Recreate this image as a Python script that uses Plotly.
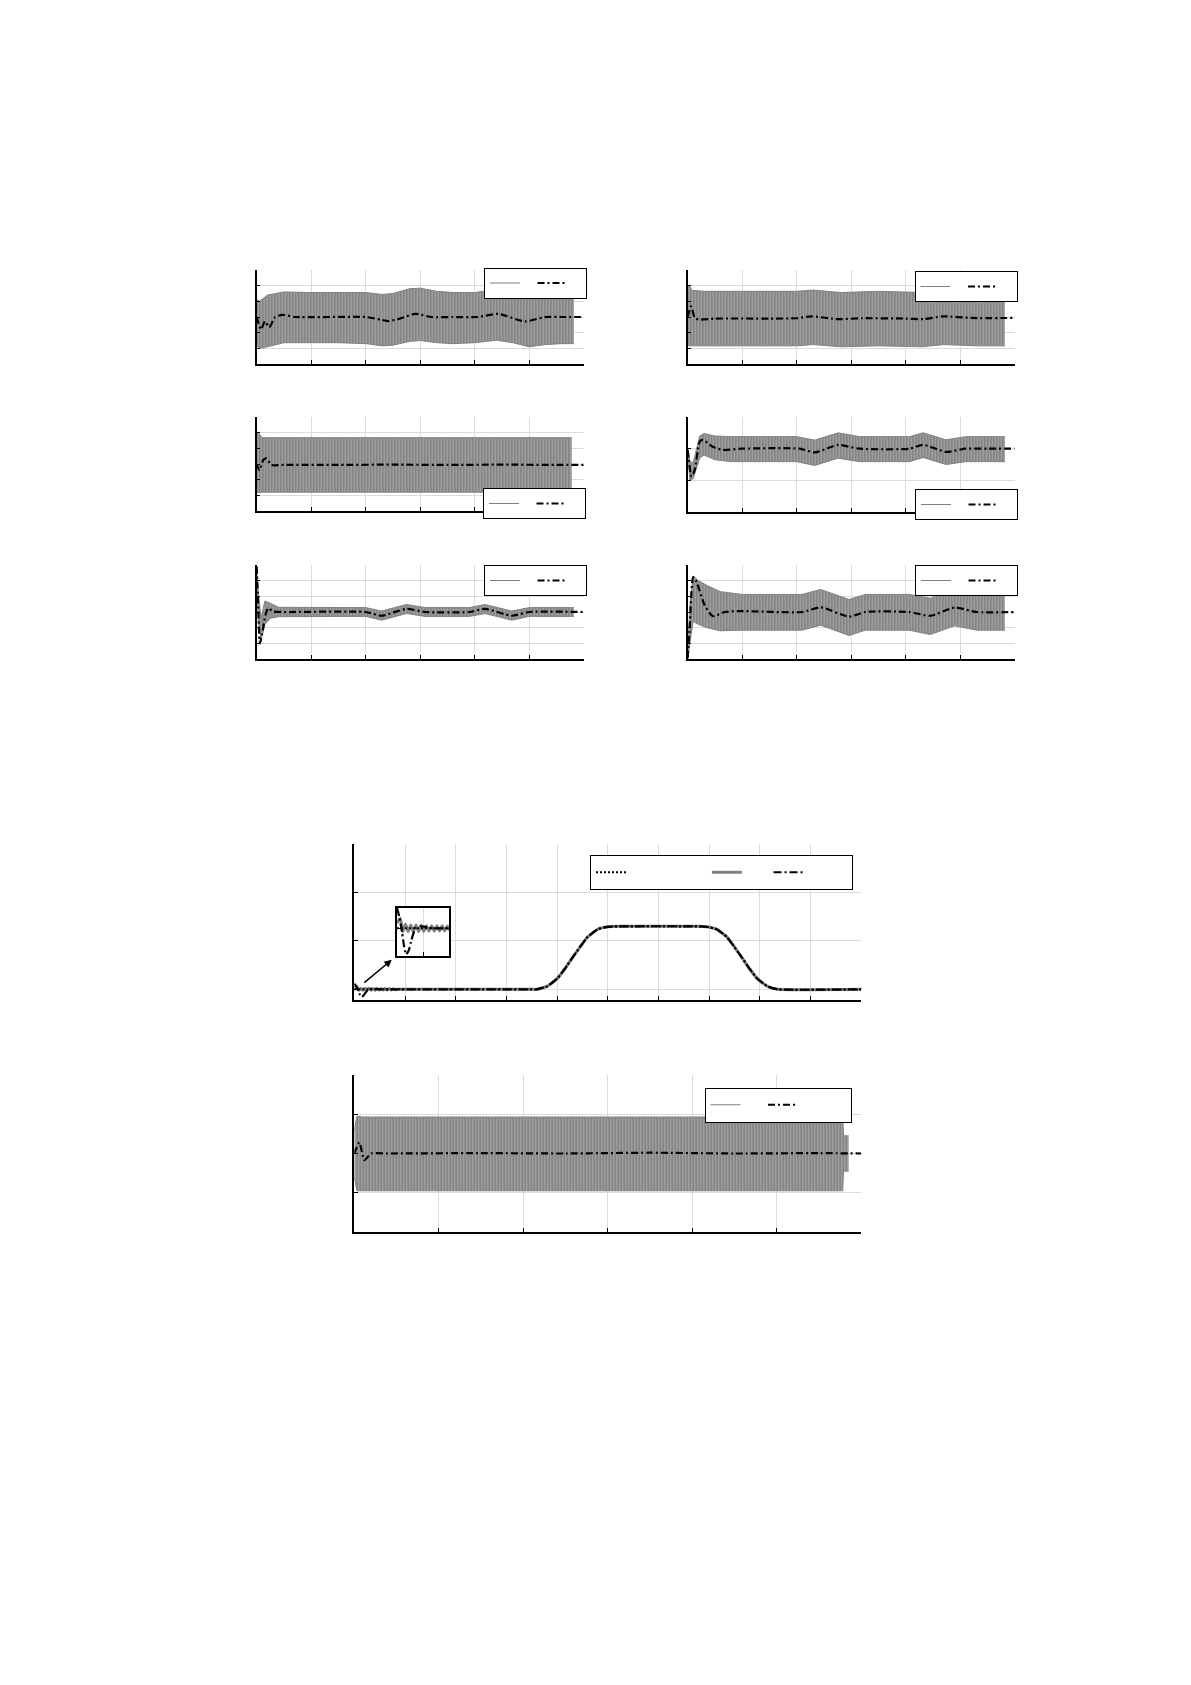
import plotly.graph_objects as go

# page geometry: the browser body keeps an 8px margin, so positions are offset by it
PAGE_W, PAGE_H = 1191, 1685
OX, OY = 8, 8
FIG_W, FIG_H = PAGE_W - 2 * OX, PAGE_H - 2 * OY

# ---------------- data (x in grid divisions, y in axis units) ----------------
# Panel A (row 1, left)
a_band_x = [0, 0.05, 0.2, 0.5, 1.0, 1.5, 2.0, 2.3, 2.5, 2.8, 3.0, 3.3, 3.6, 4.0, 4.4, 4.7, 5.0, 5.3, 5.6, 5.82]
a_upper = [0.55, 0.5, 0.7, 0.8, 0.78, 0.78, 0.78, 0.72, 0.75, 0.9, 0.92, 0.82, 0.78, 0.78, 0.88, 0.82, 0.70, 0.78, 0.78, 0.78]
a_lower = [-0.9, -1.0, -0.95, -0.82, -0.82, -0.82, -0.85, -0.92, -0.9, -0.78, -0.75, -0.82, -0.85, -0.82, -0.74, -0.82, -0.95, -0.88, -0.85, -0.85]
a_mean_x = [0, 0.08, 0.15, 0.23, 0.34, 0.48, 0.7, 2.0, 2.29, 2.41, 2.63, 2.91, 3.21, 3.6, 4.06, 4.43, 4.92, 5.29, 5.6, 6.0]
a_mean_y = [0, -0.4, -0.14, -0.33, 0, 0.07, 0.0, 0.0, -0.09, -0.13, -0.05, 0.1, 0.0, 0.0, 0.0, 0.1, -0.14, 0.0, 0.0, 0.0]

# Panel B (row 1, right)
b_band_x = [0, 0.03, 0.08, 0.3, 1.0, 2.0, 2.3, 2.8, 3.5, 4.3, 4.7, 5.3, 5.82]
b_upper = [1.0, 1.0, 0.85, 0.82, 0.82, 0.82, 0.86, 0.78, 0.82, 0.78, 0.86, 0.82, 0.82]
b_lower = [-0.9, -0.92, -0.92, -0.92, -0.92, -0.92, -0.88, -0.95, -0.92, -0.95, -0.88, -0.92, -0.92]
b_mean_x = [0, 0.06, 0.13, 0.2, 0.5, 1.5, 2.0, 2.27, 2.76, 3.2, 4.0, 4.32, 4.68, 5.2, 6.0]
b_mean_y = [0, 0.34, -0.02, -0.08, -0.05, -0.05, -0.04, 0.02, -0.07, -0.04, -0.05, -0.07, 0.02, -0.03, -0.03]

# Panel C (row 2, left)
c_band_x = [0, 0.03, 0.1, 0.5, 1.5, 2.5, 3.5, 4.5, 5.5, 5.78]
c_upper = [1.0, 1.0, 0.84, 0.84, 0.84, 0.85, 0.84, 0.84, 0.84, 0.84]
c_lower = [-0.9, -0.92, -0.9, -0.9, -0.9, -0.9, -0.9, -0.9, -0.9, -0.9]
c_mean_x = [0, 0.05, 0.12, 0.18, 0.27, 0.5, 1.5, 2.5, 3.5, 4.5, 5.5, 6.0]
c_mean_y = [0, -0.2, 0.13, 0.18, -0.03, -0.03, -0.03, -0.02, -0.03, -0.02, -0.03, -0.03]

# Panel D (row 2, right)
d_band_x = [0, 0.04, 0.1, 0.22, 0.3, 0.5, 0.8, 2.0, 2.33, 2.76, 3.15, 4.07, 4.32, 4.74, 5.1, 5.82]
d_upper = [0.0, -0.4, -0.45, 0.4, 0.48, 0.4, 0.38, 0.38, 0.27, 0.5, 0.38, 0.38, 0.5, 0.28, 0.38, 0.38]
d_lower = [-0.1, -1.0, -0.95, -0.3, -0.2, -0.35, -0.41, -0.41, -0.53, -0.3, -0.41, -0.41, -0.28, -0.5, -0.41, -0.41]
d_mean_x = [0, 0.07, 0.13, 0.22, 0.28, 0.46, 0.64, 1.0, 2.05, 2.33, 2.55, 2.76, 3.15, 4.07, 4.32, 4.74, 5.1, 5.5, 6.0]
d_mean_y = [-0.04, -0.88, -0.67, 0.22, 0.28, 0.06, -0.04, 0.0, 0.0, -0.12, 0.0, 0.12, 0.0, 0.0, 0.12, -0.1, 0.0, 0.0, 0.0]

# Panel E (row 3, left)
e_band_x = [0, 0.03, 0.08, 0.15, 0.25, 0.4, 2.0, 2.29, 2.75, 3.09, 3.9, 4.19, 4.68, 5.0, 5.82]
e_upper = [1.3, 0.6, -0.2, 0.35, 0.28, 0.15, 0.14, 0.03, 0.24, 0.14, 0.14, 0.24, 0.03, 0.14, 0.14]
e_lower = [0.9, -0.3, -0.9, -0.4, -0.2, -0.15, -0.14, -0.26, -0.05, -0.14, -0.14, -0.05, -0.26, -0.14, -0.14]
e_mean_x = [0, 0.02, 0.06, 0.1, 0.16, 0.21, 0.3, 0.5, 2.0, 2.29, 2.5, 2.75, 3.09, 3.9, 4.19, 4.68, 5.0, 6.0]
e_mean_y = [1.45, 0.6, -1.0, -0.7, -0.1, 0.12, 0.02, 0.0, 0.0, -0.12, -0.02, 0.1, 0.0, 0.0, 0.1, -0.12, 0.0, 0.0]

# Panel F (row 3, right)
f_band_x = [0, 0.04, 0.1, 0.2, 0.35, 0.6, 1.0, 2.1, 2.44, 2.96, 3.26, 4.06, 4.45, 4.9, 5.3, 5.82]
f_upper = [-1.2, 0.2, 1.15, 1.0, 0.85, 0.65, 0.56, 0.56, 0.72, 0.4, 0.56, 0.56, 0.44, 0.72, 0.56, 0.56]
f_lower = [-1.47, -1.0, -0.3, -0.4, -0.5, -0.6, -0.58, -0.58, -0.42, -0.75, -0.58, -0.58, -0.72, -0.44, -0.58, -0.58]
f_mean_x = [0, 0.04, 0.10, 0.16, 0.31, 0.46, 0.68, 0.92, 2.1, 2.44, 2.96, 3.26, 4.06, 4.45, 4.9, 5.3, 6.0]
f_mean_y = [-1.47, -0.42, 1.11, 0.97, 0.22, -0.13, 0.0, 0.03, 0.0, 0.15, -0.15, 0.0, 0.0, -0.12, 0.14, 0.0, 0.0]

# Panel G (row 4): reference trajectory, actual, estimate
g_ref_x = [0, 3.5, 3.6, 3.8, 4.0, 4.15, 4.3, 4.45, 4.6, 4.8, 5.0, 5.2, 6.75, 6.95, 7.15, 7.35, 7.5, 7.65, 7.8, 7.95, 8.15, 8.35, 10.0]
g_ref_y = [0, 0, 0.0, 0.06, 0.22, 0.42, 0.65, 0.87, 1.08, 1.24, 1.29, 1.3, 1.3, 1.29, 1.24, 1.08, 0.87, 0.65, 0.42, 0.22, 0.06, 0.0, 0.0]
g_act_start_x = [0, 0.05, 0.09, 0.13, 0.17, 0.21, 0.25, 0.29, 0.33, 0.37, 0.41, 0.45, 0.49, 0.53, 0.57, 0.61, 0.65, 0.69, 0.73, 0.77, 0.81, 0.85]
g_act_start_y = [0.03, 0.06, -0.02, 0.025, -0.02, 0.02, -0.02, 0.02, -0.018, 0.018, -0.018, 0.016, -0.016, 0.016, -0.016, 0.015, -0.015, 0.015, -0.015, 0.014, -0.01, 0.0]
g_est_start_x = [0, 0.04, 0.08, 0.11, 0.14, 0.18, 0.22, 0.28, 0.35, 0.42, 0.55, 0.8]
g_est_start_y = [0.12, 0.06, -0.03, -0.11, -0.154, -0.13, -0.07, 0.0, 0.012, 0.01, 0.0, 0.0]

# Panel H (row 5)
h_band_x = [0, 0.03, 0.1, 1.0, 2.0, 3.0, 4.0, 5.0, 5.78, 5.79, 5.85]
h_upper = [0.6, 0.95, 0.93, 0.93, 0.93, 0.93, 0.93, 0.93, 0.93, 0.45, 0.45]
h_lower = [-0.6, -0.95, -0.95, -0.95, -0.95, -0.95, -0.95, -0.95, -0.95, -0.45, -0.45]
h_mean_x = [0, 0.06, 0.12, 0.2, 0.4, 1.5, 2.5, 3.5, 4.5, 5.5, 6.0]
h_mean_y = [0, 0.28, -0.17, 0.0, 0.0, 0.01, 0.0, 0.02, 0.0, 0.01, 0.0]

# ---------------- styling ----------------
GRAY = "#808080"
MEAN_DASH = "7px,3px,2px,3px"
PATTERN = dict(shape="|", bgcolor="#858585", fgcolor="#cccccc", size=3, solidity=0.35)
NB = "\u00a0"


def xdom(a, b):
    return [(a - OX) / FIG_W, (b - OX) / FIG_W]


def ydom(top, bottom):
    return [1 - (bottom - OY) / FIG_H, 1 - (top - OY) / FIG_H]


def axis(domain, rng, dtick, anchor):
    return dict(domain=domain, range=rng, dtick=dtick, tick0=0, anchor=anchor,
                showgrid=True, gridcolor="#dcdcdc", gridwidth=1,
                showline=True, linecolor="black", linewidth=1.5,
                ticks="inside", ticklen=4, tickcolor="black", tickwidth=1,
                showticklabels=False, zeroline=False, fixedrange=True)


fig = go.Figure()


def band_panel(n, bx, up, lo, mx, my, leg, names):
    xa, ya = ("x" if n == 1 else f"x{n}"), ("y" if n == 1 else f"y{n}")
    fig.add_trace(go.Scatter(x=bx, y=up, mode="lines", xaxis=xa, yaxis=ya,
                             line=dict(color=GRAY, width=1), name=names[0],
                             legend=leg, legendrank=1, hoverinfo="skip"))
    fig.add_trace(go.Scatter(x=bx, y=lo, mode="lines", xaxis=xa, yaxis=ya,
                             line=dict(color=GRAY, width=1), fill="tonexty",
                             fillcolor="#858585", fillpattern=PATTERN,
                             showlegend=False, hoverinfo="skip"))
    fig.add_trace(go.Scatter(x=mx, y=my, mode="lines", xaxis=xa, yaxis=ya,
                             line=dict(color="black", width=2.2, dash=MEAN_DASH,
                                       shape="spline", smoothing=0.6),
                             name=names[1], legend=leg, legendrank=2))


small_names = [NB, NB * 3]
band_panel(1, a_band_x, a_upper, a_lower, a_mean_x, a_mean_y, "legend", small_names)
band_panel(2, b_band_x, b_upper, b_lower, b_mean_x, b_mean_y, "legend2", small_names)
band_panel(3, c_band_x, c_upper, c_lower, c_mean_x, c_mean_y, "legend3", small_names)
band_panel(4, d_band_x, d_upper, d_lower, d_mean_x, d_mean_y, "legend4", small_names)
band_panel(5, e_band_x, e_upper, e_lower, e_mean_x, e_mean_y, "legend5", small_names)
band_panel(6, f_band_x, f_upper, f_lower, f_mean_x, f_mean_y, "legend6", small_names)

# Panel G traces (drawn again, clipped, inside the inset axes)
g_act_x = g_act_start_x + g_ref_x[1:]
g_act_y = g_act_start_y + g_ref_y[1:]
g_est_x = g_est_start_x + g_ref_x[1:]
g_est_y = g_est_start_y + g_ref_y[1:]
for xa, ya, show in (("x7", "y7", True), ("x9", "y9", False)):
    fig.add_trace(go.Scatter(x=g_act_x, y=g_act_y, mode="lines", xaxis=xa, yaxis=ya,
                             line=dict(color=GRAY, width=3, shape="spline", smoothing=0.4),
                             name=NB * 4, legend="legend7", legendrank=2, showlegend=show))
    fig.add_trace(go.Scatter(x=g_ref_x, y=g_ref_y, mode="lines", xaxis=xa, yaxis=ya,
                             line=dict(color="black", width=2, dash="2px,2px",
                                       shape="spline", smoothing=0.4),
                             name=NB * 17, legend="legend7", legendrank=1, showlegend=show))
    fig.add_trace(go.Scatter(x=g_est_x, y=g_est_y, mode="lines", xaxis=xa, yaxis=ya,
                             line=dict(color="black", width=2.2, dash="8px,3px,2px,3px",
                                       shape="spline", smoothing=0.4),
                             name=NB * 9, legend="legend7", legendrank=3, showlegend=show))

# Panel H
band_panel(8, h_band_x, h_upper, h_lower, h_mean_x, h_mean_y, "legend8", [NB * 3, NB * 10])

# ---------------- layout ----------------
L_A, R_A = 256.7, 583.7
L_B, R_B = 687.7, 1014.7
L_G, R_G = 354.3, 861.3
G_TOP, G_BOT = 844, 1000
G_RANGE = [-0.22, 3]
IN_L, IN_R, IN_T, IN_B = 397, 449.3, 908, 955.5

layout = dict(
    width=FIG_W, height=FIG_H, margin=dict(l=0, r=0, t=0, b=0),
    paper_bgcolor="white", plot_bgcolor="white", showlegend=True,
    font=dict(family="Liberation Sans, Arial, sans-serif", size=10, color="black"),
    xaxis=axis(xdom(L_A, R_A), [0, 6], 1, "y"),
    yaxis=axis(ydom(270, 364), [-1.5, 1.5], 0.5, "x"),
    xaxis2=axis(xdom(L_B, R_B), [0, 6], 1, "y2"),
    yaxis2=axis(ydom(270, 364), [-1.5, 1.5], 0.5, "x2"),
    xaxis3=axis(xdom(L_A, R_A), [0, 6], 1, "y3"),
    yaxis3=axis(ydom(417, 511), [-1.5, 1.5], 0.5, "x3"),
    xaxis4=axis(xdom(L_B, R_B), [0, 6], 1, "y4"),
    yaxis4=axis(ydom(417, 512), [-2, 1], 1, "x4"),
    xaxis5=axis(xdom(L_A, R_A), [0, 6], 1, "y5"),
    yaxis5=axis(ydom(565, 659), [-1.5, 1.5], 0.5, "x5"),
    xaxis6=axis(xdom(L_B, R_B), [0, 6], 1, "y6"),
    yaxis6=axis(ydom(565, 659), [-1.5, 1.5], 0.5, "x6"),
    xaxis7=axis(xdom(L_G, R_G), [0, 10], 1, "y7"),
    yaxis7=axis(ydom(G_TOP, G_BOT), G_RANGE, 1, "x7"),
    xaxis8=axis(xdom(L_G, R_G), [0, 6], 1, "y8"),
    yaxis8=axis(ydom(1075, 1232), [-2, 2], 1, "x8"),
    xaxis9=dict(axis(xdom(IN_L, IN_R), [0, 0.8], 0.4, "y9"), mirror=True),
    yaxis9=dict(axis(ydom(IN_T, IN_B), [-0.16, 0.12], 0.1, "x9"), mirror=True,
                tickvals=[0]),
)


def leg(x, y, size):
    return dict(x=(x - OX) / FIG_W, y=1 - (y - OY) / FIG_H, xanchor="left", yanchor="top",
                orientation="h", traceorder="normal", bgcolor="white",
                bordercolor="black", borderwidth=1,
                font=dict(size=size), itemwidth=30, tracegroupgap=0)


layout["legend"] = leg(484, 267.5, 9)
layout["legend2"] = leg(914.5, 271, 9)
layout["legend3"] = leg(483, 488, 9)
layout["legend4"] = leg(915, 489, 9)
layout["legend5"] = leg(484, 565, 9)
layout["legend6"] = leg(915, 565, 9)
layout["legend7"] = leg(590, 855, 15)
layout["legend8"] = leg(704.5, 1087.5, 15)

fig.update_layout(**layout)

# white backing for the inset (above the main grid, below the main traces)
gx_per_px = 10 / (R_G - L_G)
gy_per_px = (G_RANGE[1] - G_RANGE[0]) / (G_BOT - G_TOP)
fig.add_shape(type="rect", xref="x7", yref="y7",
              x0=(IN_L - L_G) * gx_per_px, x1=(IN_R - L_G) * gx_per_px,
              y0=G_RANGE[1] - (IN_B - G_TOP) * gy_per_px,
              y1=G_RANGE[1] - (IN_T - G_TOP) * gy_per_px,
              fillcolor="white", line=dict(width=0), layer="between")

# arrow pointing from the transient to the inset
fig.add_annotation(xref="x7", yref="y7", x=0.74, y=0.61, ax=-29, ay=24, text="",
                   showarrow=True, arrowhead=2, arrowsize=1, arrowwidth=1.5,
                   arrowcolor="black", standoff=0)

fig.write_html("out.html")
